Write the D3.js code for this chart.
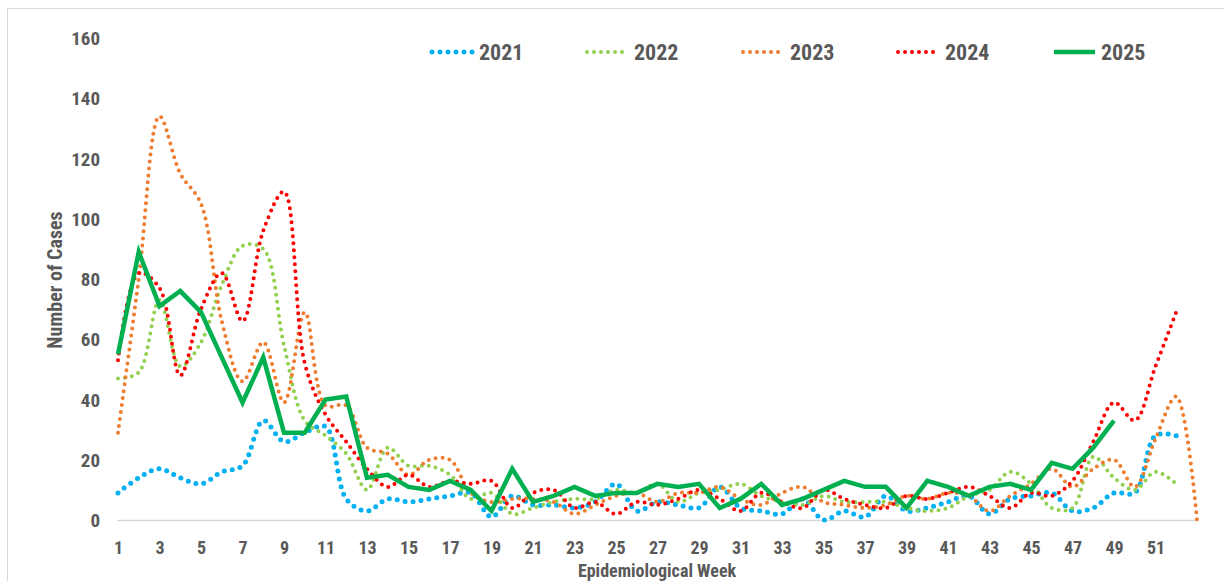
<!DOCTYPE html>
<html><head><meta charset="utf-8">
<script src="https://cdn.jsdelivr.net/npm/d3@7"></script>
<style>
html,body{margin:0;padding:0;background:#fff;}
svg{display:block;}
text{font-family:"Liberation Sans Narrow","Roboto Condensed","Arial Narrow","Liberation Sans",sans-serif;font-weight:bold;fill:#595959;}
</style></head>
<body>
<svg id="chart" width="1224" height="581"></svg>
<script>
const years = ["2021","2022","2023","2024","2025"];
const colors = ["#00b0f0","#92d050","#ed7d31","#ff0000","#00b050"];
const xTickLabels = [1,3,5,7,9,11,13,15,17,19,21,23,25,27,29,31,33,35,37,39,41,43,45,47,49,51];
const yTickLabels = [0,20,40,60,80,100,120,140,160];

const cases2021 = [9,14,17,14,12,16,18,33,26,29,31,7,3,7,6,7,8,9,1,8,5,5,4,6,12,3,6,5,4,11,4,3,2,7,0,3,1,8,3,4,6,8,2,7,8,9,3,4,9,9,28,28];
const cases2022 = [47,49,73,51,59,78,91,90,58,33,28,22,10,24,18,18,15,7,9,2,4,6,7,7,10,9,12,6,9,10,12,8,6,5,8,6,6,6,4,3,4,8,10,16,12,4,4,21,14,10,16,12];
const cases2023 = [29,80,134,115,105,66,46,59,39,69,38,38,24,22,15,20,20,9,6,7,7,6,2,5,8,9,6,9,9,11,7,5,9,11,6,5,4,5,8,7,9,8,3,8,12,17,11,17,20,11,27,41,0];
const cases2024 = [53,82,77,48,70,82,66,96,109,52,35,26,17,11,15,11,13,12,13,4,9,10,4,6,2,6,5,7,10,7,3,9,6,4,10,7,5,4,8,7,9,11,8,4,9,8,13,26,39,33,51,69];
const cases2025 = [55,89,71,76,69,54,39,54,29,29,40,41,14,15,11,10,13,10,3,17,6,8,11,8,9,9,12,11,12,4,7,12,5,7,10,13,11,11,4,13,11,8,11,12,10,19,17,24,33];

const seriesValues = [cases2021,cases2022,cases2023,cases2024,cases2025];

const svg = d3.select("#chart");
svg.append("rect").attr("x",7.5).attr("y",8.5).attr("width",1230).attr("height",600)
  .attr("fill","none").attr("stroke","#d9d9d9").attr("stroke-width",1);

const x = d3.scaleLinear().domain([1,53]).range([118,1197]);
const y = d3.scaleLinear().domain([0,160]).range([520,38]);

svg.append("line").attr("x1",x(1)-1).attr("x2",x(53)).attr("y1",y(0)+0.5).attr("y2",y(0)+0.5)
  .attr("stroke","#d9d9d9").attr("stroke-width",1.5);

const xAxis = d3.axisBottom(x).tickValues(xTickLabels).tickSize(0).tickPadding(0).tickFormat(d3.format("d"));
const gx = svg.append("g").attr("transform",`translate(0,${y(0)})`).call(xAxis);
gx.select(".domain").remove();
gx.selectAll("text").attr("dy",null).attr("y",34).style("font-size","18px");

const yAxis = d3.axisLeft(y).tickValues(yTickLabels).tickSize(0).tickPadding(0);
const gy = svg.append("g").attr("transform","translate(100,0)").call(yAxis);
gy.select(".domain").remove();
gy.selectAll("text").attr("dy","0.35em").attr("x",0).style("font-size","19px");

svg.append("text").attr("x",657).attr("y",577).attr("text-anchor","middle")
  .style("font-size","18px").text("Epidemiological Week");
svg.append("text").attr("transform","translate(62,280) rotate(-90)").attr("text-anchor","middle")
  .style("font-size","20px").text("Number of Cases");

const smooth = d3.line().x((d,i)=>x(i+1)).y(d=>y(d)).curve(d3.curveCatmullRom.alpha(0.5));
const straight = d3.line().x((d,i)=>x(i+1)).y(d=>y(d));
const dotW = [5,4,4,4];
const dotGap = [8,7,7,7];

seriesValues.forEach((vals,k)=>{
  const p = svg.append("path").attr("fill","none").attr("stroke",colors[k]);
  if(k<4){
    p.attr("d",smooth(vals)).attr("stroke-width",dotW[k]).attr("stroke-linecap","round")
     .attr("stroke-dasharray",`0 ${dotGap[k]}`);
  } else {
    p.attr("d",straight(vals)).attr("stroke-width",4.5).attr("stroke-linejoin","miter");
  }
});

const legX = [432,587,743,898,1054];
const lg = svg.append("g");
years.forEach((yr,k)=>{
  const g = lg.append("g").attr("transform",`translate(${legX[k]},52)`);
  const l = g.append("line").attr("x1",0).attr("x2",41).attr("y1",0).attr("y2",0).attr("stroke",colors[k]);
  if(k<4){
    l.attr("stroke-width",dotW[k]).attr("stroke-linecap","round").attr("stroke-dasharray",`0 ${dotGap[k]}`);
  } else {
    l.attr("stroke-width",4.5);
  }
  g.append("text").attr("x",47).attr("y",0).attr("dy","0.35em").style("font-size","22px").text(yr);
});
</script>
</body></html>
